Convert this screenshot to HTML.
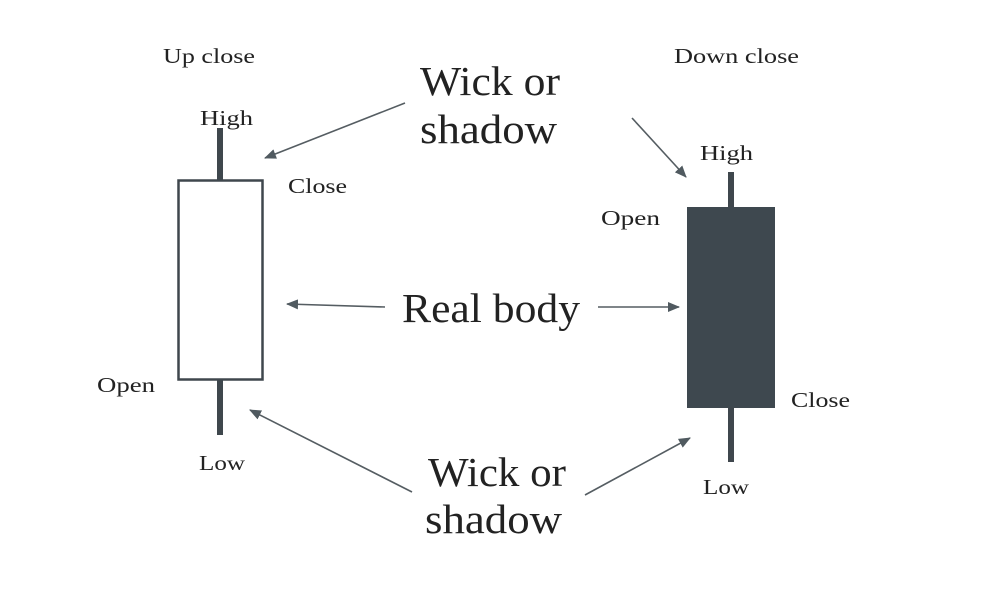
<!DOCTYPE html>
<html><head><meta charset="utf-8"><style>
html,body{margin:0;padding:0;background:#fff;}
svg{display:block}
text{font-family:"Liberation Serif","DejaVu Serif",serif;fill:#222}
</style></head><body>
<svg width="997" height="615" viewBox="0 0 997 615" xmlns="http://www.w3.org/2000/svg">
<defs>
<marker id="a" viewBox="0 0 12 10" refX="11" refY="5" markerWidth="12" markerHeight="10" markerUnits="userSpaceOnUse" orient="auto">
<path d="M0,0 L12,5 L0,10 z" fill="#505a60"/></marker>
</defs>
<rect x="217" y="128" width="6" height="53" fill="#3f474d"/>
<rect x="178.5" y="180.5" width="84" height="199" fill="#fff" stroke="#3f474d" stroke-width="2.5"/>
<rect x="217" y="380" width="6" height="55" fill="#3f474d"/>
<rect x="728" y="172" width="6" height="36" fill="#3f474d"/>
<rect x="687" y="207" width="88" height="201" fill="#3e484f"/>
<rect x="728" y="407" width="6" height="55" fill="#3f474d"/>
<g stroke="#555d62" stroke-width="1.6" fill="none" marker-end="url(#a)">
<line x1="405" y1="103" x2="265" y2="158"/>
<line x1="632" y1="118" x2="686" y2="177"/>
<line x1="385" y1="307" x2="287" y2="304"/>
<line x1="598" y1="307" x2="679" y2="307"/>
<line x1="412" y1="492" x2="250" y2="410"/>
<line x1="585" y1="495" x2="690" y2="438"/>
</g>
<g lengthAdjust="spacingAndGlyphs">
<text x="163" y="63" font-size="21" textLength="92" lengthAdjust="spacingAndGlyphs">Up close</text>
<text x="674" y="63" font-size="21" textLength="125" lengthAdjust="spacingAndGlyphs">Down close</text>
<text x="420" y="95" font-size="41" textLength="140" lengthAdjust="spacingAndGlyphs">Wick or</text>
<text x="420" y="143" font-size="41" textLength="137" lengthAdjust="spacingAndGlyphs">shadow</text>
<text x="402" y="322" font-size="41" textLength="178" lengthAdjust="spacingAndGlyphs">Real body</text>
<text x="428" y="486" font-size="41" textLength="138" lengthAdjust="spacingAndGlyphs">Wick or</text>
<text x="425" y="533" font-size="41" textLength="137" lengthAdjust="spacingAndGlyphs">shadow</text>
<text x="200" y="125" font-size="21" textLength="53" lengthAdjust="spacingAndGlyphs">High</text>
<text x="288" y="193" font-size="21" textLength="59" lengthAdjust="spacingAndGlyphs">Close</text>
<text x="97" y="392" font-size="21" textLength="58" lengthAdjust="spacingAndGlyphs">Open</text>
<text x="199" y="470" font-size="21" textLength="46" lengthAdjust="spacingAndGlyphs">Low</text>
<text x="700" y="160" font-size="21" textLength="53" lengthAdjust="spacingAndGlyphs">High</text>
<text x="601" y="225" font-size="21" textLength="59" lengthAdjust="spacingAndGlyphs">Open</text>
<text x="791" y="407" font-size="21" textLength="59" lengthAdjust="spacingAndGlyphs">Close</text>
<text x="703" y="494" font-size="21" textLength="46" lengthAdjust="spacingAndGlyphs">Low</text>
</g>
</svg>
</body></html>
